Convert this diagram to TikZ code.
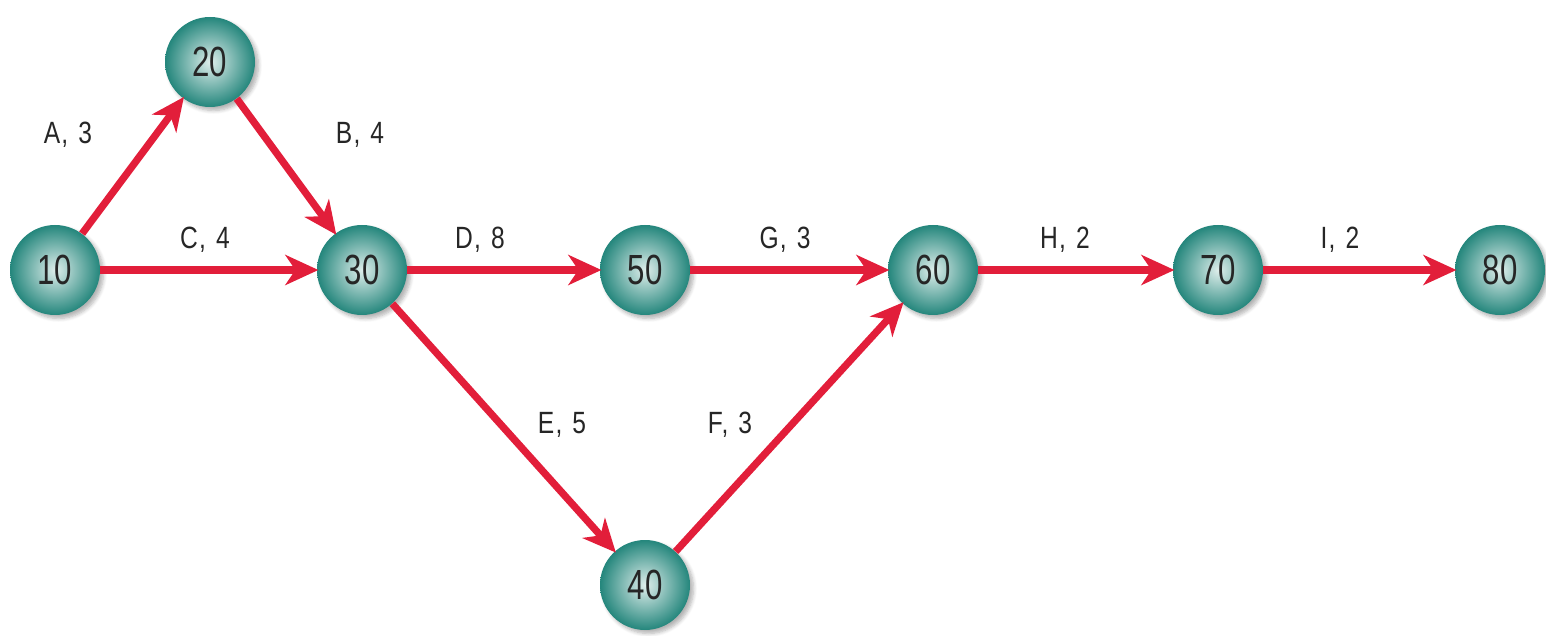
\documentclass[tikz,border=0pt]{standalone}
\usepackage{fontspec}
\usepackage{xcolor}
\usepackage{tikz}
\usetikzlibrary{arrows.meta,shadows.blur}

\setmainfont{Liberation Sans}[FakeStretch=0.74]
\newfontfamily\lblfont{Liberation Sans}[FakeStretch=0.8, LetterSpace=4, WordSpace=1.25]
\definecolor{evred}{RGB}{226,30,58}
\definecolor{evteal}{RGB}{36,134,124}
\definecolor{evlight}{RGB}{222,238,235}

\begin{document}
\begin{tikzpicture}[
    event/.style={circle, minimum size=1.80cm, inner sep=0pt, shading=radial, inner color=evlight, outer color=evteal, blur shadow={shadow xshift=0.07cm, shadow yshift=-0.07cm, shadow opacity=30, shadow blur steps=6}, font=\fontsize{24}{24}\selectfont, text=black!85},
    activity/.style={-{Stealth[length=0.66cm, width=0.6cm, inset=0.2cm]}, line width=0.145cm, draw=evred, shorten >=-1pt},
    lbl/.style={font=\lblfont\fontsize{17.5}{17.5}\selectfont, text=black!85}
]
    \useasboundingbox (0,0) rectangle (30.92,12.7);

    \node [event] (n10) at (1.10,7.30) {10};
    \node [event] (n20) at (4.20,11.46) {20};
    \node [event] (n30) at (7.24,7.30) {30};
    \node [event] (n40) at (12.90,1.00) {40};
    \node [event] (n50) at (12.90,7.30) {50};
    \node [event] (n60) at (18.66,7.30) {60};
    \node [event] (n70) at (24.36,7.30) {70};
    \node [event] (n80) at (30.00,7.30) {80};

    % activities
    \draw [activity] (n10) -- (n20);
    \draw [activity] (n20) -- (n30);
    \draw [activity] (n10) -- (n30);
    \draw [activity] (n30) -- (n50);
    \draw [activity] (n30) -- (n40);
    \draw [activity] (n40) -- (n60);
    \draw [activity] (n50) -- (n60);
    \draw [activity] (n60) -- (n70);
    \draw [activity] (n70) -- (n80);

    \node [lbl] (la) at (1.36,10.0) {A, 3};
    \node [lbl] (lb) at (7.20,10.0) {B, 4};
    \node [lbl] (lc) at (4.10,7.90) {C, 4};
    \node [lbl] (ld) at (9.60,7.90) {D, 8};
    \node [lbl] (le) at (11.24,4.20) {E, 5};
    \node [lbl] (lf) at (14.60,4.20) {F, 3};
    \node [lbl] (lg) at (15.70,7.90) {G, 3};
    \node [lbl] (lh) at (21.30,7.90) {H, 2};
    \node [lbl] (li) at (26.80,7.90) {I, 2};
\end{tikzpicture}
\end{document}
